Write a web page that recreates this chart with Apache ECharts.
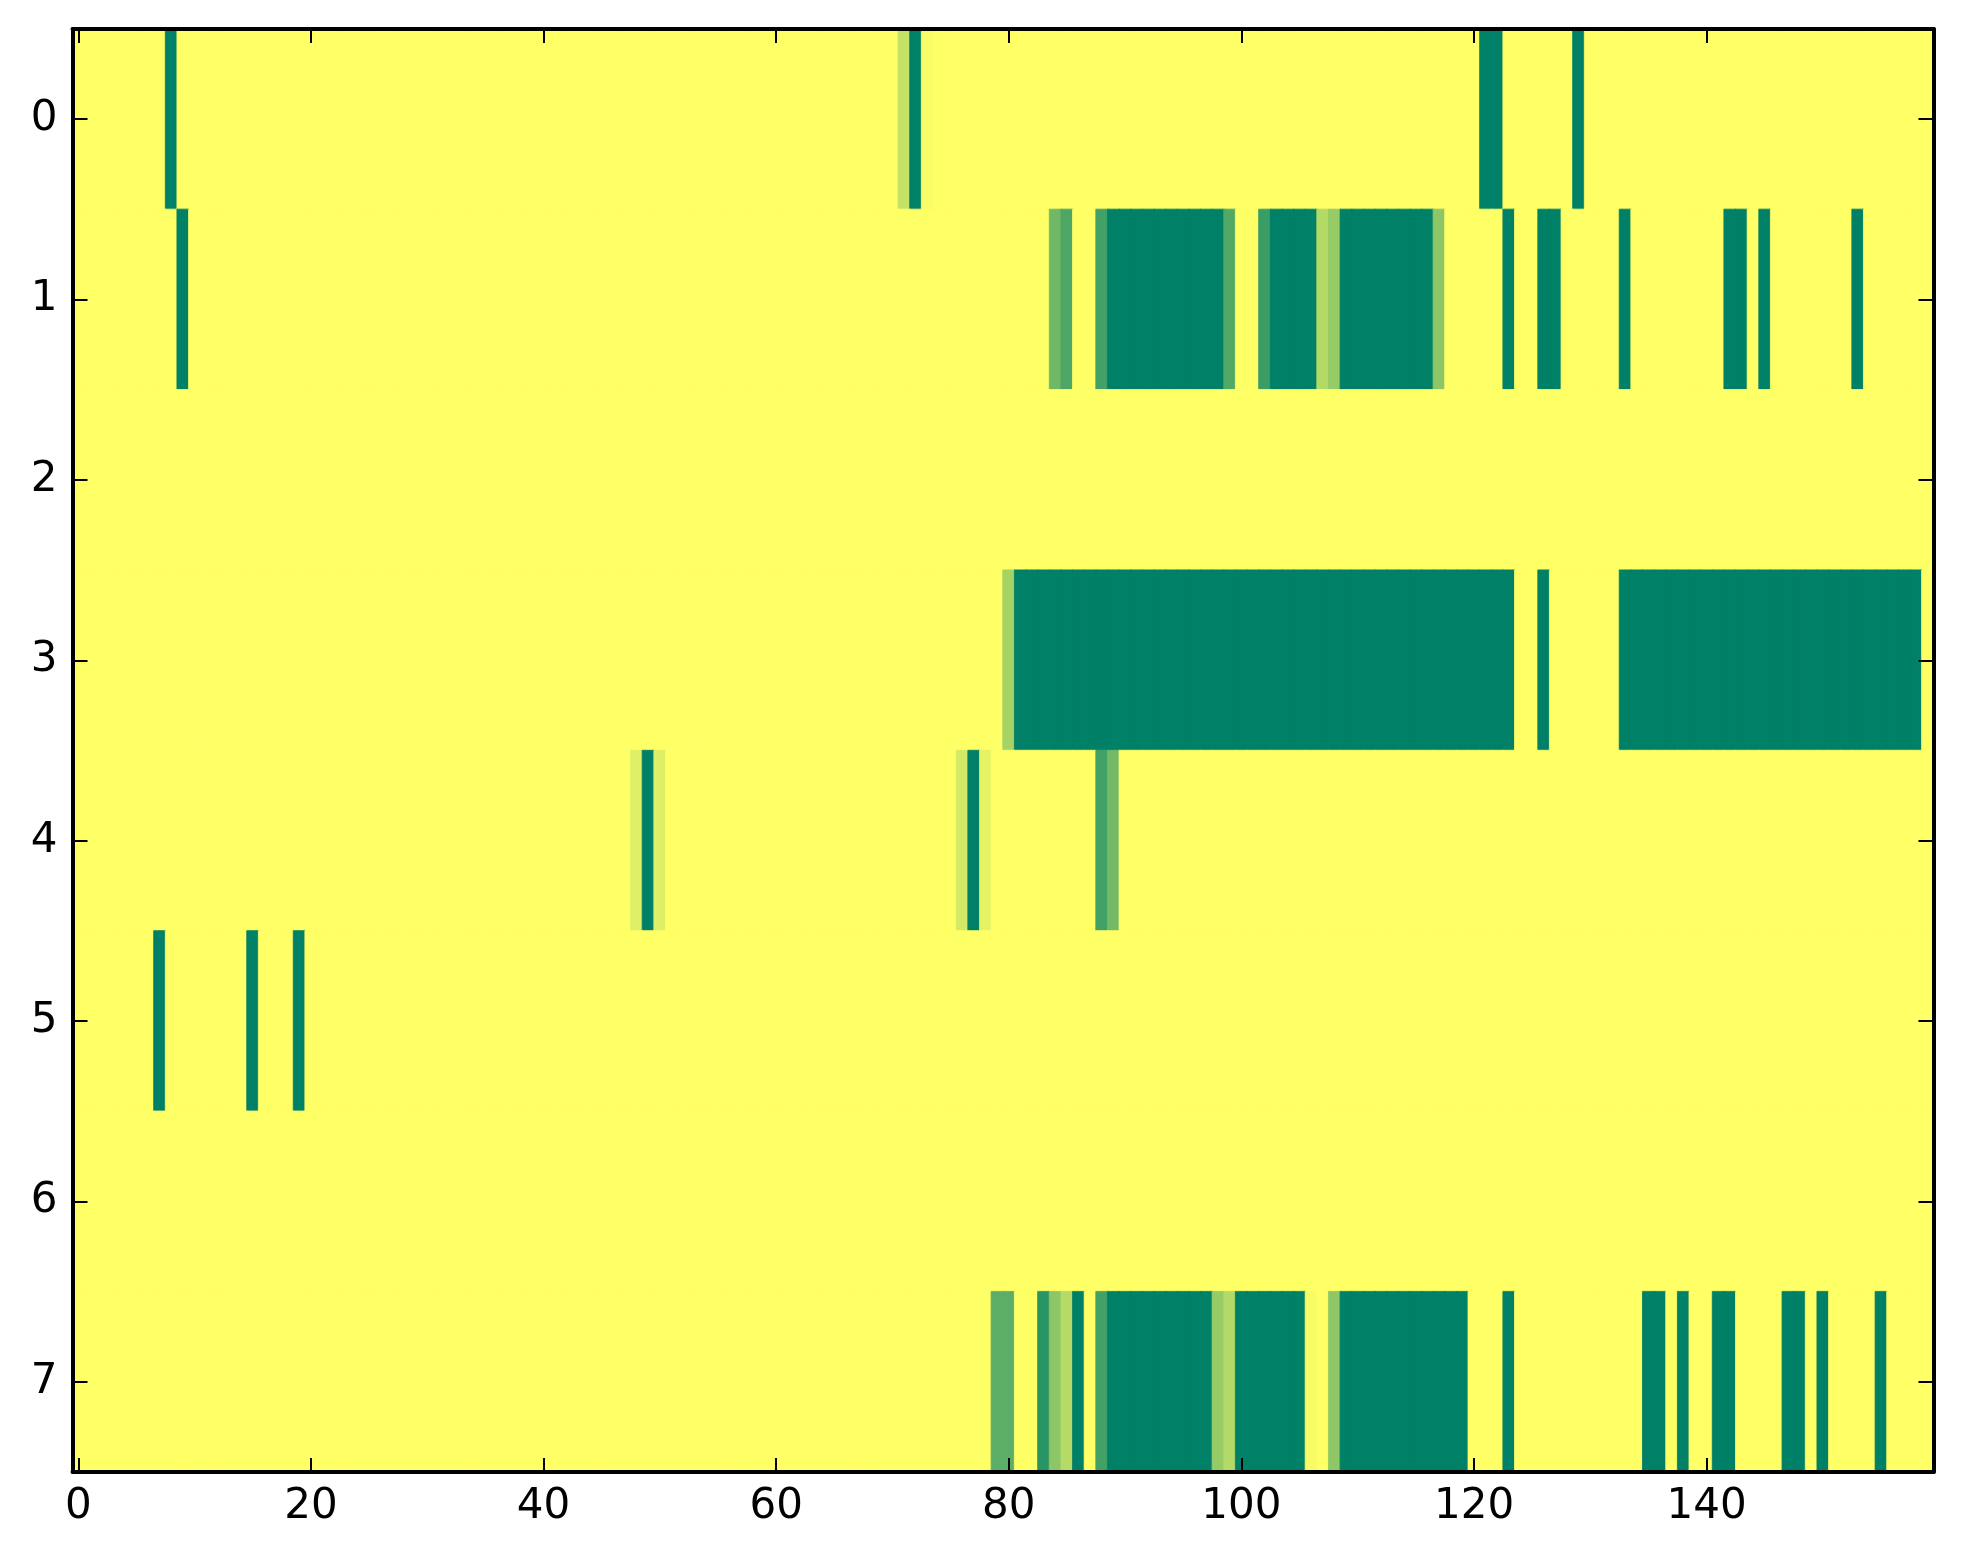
<!DOCTYPE html>
<html>
<head>
<meta charset="utf-8">
<script src="https://cdn.jsdelivr.net/npm/echarts@6/dist/echarts.min.js"></script>
<style>
html,body{margin:0;padding:0;background:#fff;}
#chart{width:1963px;height:1564px;}
</style>
</head>
<body>
<div id="chart"></div>
<script>
// Number of columns and row labels
const nCols = 160;
const rowLabels = ['0','1','2','3','4','5','6','7'];
const xTickStep = 20;

// Non-zero runs per row: [startCol, endCol, value]
const row0 = [[8,8,1],[71,71,0.23],[72,72,1],[73,73,0.02],[121,122,1],[129,129,1]];
const row1 = [[9,9,1],[84,84,0.56],[85,85,0.70],[88,88,0.74],[89,98,1],[99,99,0.68],
              [102,102,0.77],[103,106,1],[107,107,0.30],[108,108,0.41],[109,116,1],
              [117,117,0.45],[123,123,1],[126,127,1],[133,133,1],[142,143,1],[145,145,1],[153,153,1]];
const row2 = [];
const row3 = [[80,80,0.35],[81,123,1],[126,126,1],[133,158,1]];
const row4 = [[48,48,0.12],[49,49,1],[50,50,0.13],[76,76,0.17],[77,77,1],[78,78,0.10],
              [88,88,0.74],[89,89,0.55]];
const row5 = [[7,7,1],[15,15,1],[19,19,1]];
const row6 = [];
const row7 = [[79,80,0.64],[83,83,0.84],[84,84,0.45],[85,85,0.29],[86,86,1],[88,88,0.74],
              [89,97,1],[98,98,0.41],[99,99,0.30],[100,105,1],[106,106,0.03],[108,108,0.44],
              [109,119,1],[123,123,1],[135,136,1],[138,138,1],[141,142,1],[147,148,1],
              [150,150,1],[155,155,1]];
const rows = [row0,row1,row2,row3,row4,row5,row6,row7];

// summer_r colormap endpoints
const cmapLow = '#ffff66';
const cmapHigh = '#008066';

const xCats = [];
for (let i = 0; i < nCols; i++) xCats.push(String(i));

const data = [];
rows.forEach((runs, r) => {
  const vals = new Array(nCols).fill(0);
  runs.forEach(([s, e, v]) => { for (let c = s; c <= e; c++) vals[c] = v; });
  vals.forEach((v, c) => data.push({
    value: [c, r, v],
    // same-colour hairline border to hide anti-aliasing seams between cells
    itemStyle: {borderColor: echarts.color.lerp(v, [cmapLow, cmapHigh]), borderWidth: 0.8}
  }));
});

const FONT = 'DejaVu Sans';
const lineStyle = {color:'#000', width:4};
const tickStyle = {color:'#000', width:2};

const option = {
  animation: false,
  backgroundColor: '#fff',
  grid: {left: 72.5, right: 29.5, top: 29, bottom: 92, containLabel: false},
  xAxis: [
    {type:'category', data:xCats, position:'bottom', boundaryGap:true, z:10,
     axisLine:{show:true, lineStyle:lineStyle, onZero:false},
     axisTick:{show:true, inside:true, length:14, interval:xTickStep-1, alignWithLabel:true, lineStyle:tickStyle},
     axisLabel:{show:true, interval:xTickStep-1, margin:14, fontFamily:FONT, fontSize:42, color:'#000'},
     splitLine:{show:false}},
    {type:'category', data:xCats, position:'top', boundaryGap:true, z:10,
     axisLine:{show:true, lineStyle:lineStyle, onZero:false},
     axisTick:{show:true, inside:true, length:14, interval:xTickStep-1, alignWithLabel:true, lineStyle:tickStyle},
     axisLabel:{show:false}, splitLine:{show:false}}
  ],
  yAxis: [
    {type:'category', data:rowLabels, position:'left', inverse:true, boundaryGap:true, z:10,
     axisLine:{show:true, lineStyle:lineStyle, onZero:false},
     axisTick:{show:true, inside:true, length:15, alignWithLabel:true, lineStyle:tickStyle},
     axisLabel:{show:true, margin:15, fontFamily:FONT, fontSize:42, color:'#000'},
     splitLine:{show:false}},
    {type:'category', data:rowLabels, position:'right', inverse:true, boundaryGap:true, z:10,
     axisLine:{show:true, lineStyle:lineStyle, onZero:false},
     axisTick:{show:true, inside:true, length:15, alignWithLabel:true, lineStyle:tickStyle},
     axisLabel:{show:false}, splitLine:{show:false}}
  ],
  visualMap: {show:false, min:0, max:1, calculable:false, dimension:2,
              inRange:{color:[cmapLow, cmapHigh]}},
  series: [{
    type:'heatmap', xAxisIndex:0, yAxisIndex:0, data:data, z:2,
    emphasis:{disabled:true}, progressive:0
  }]
};

const chart = echarts.init(document.getElementById('chart'), null, {renderer:'canvas'});
chart.setOption(option);
</script>
</body>
</html>
